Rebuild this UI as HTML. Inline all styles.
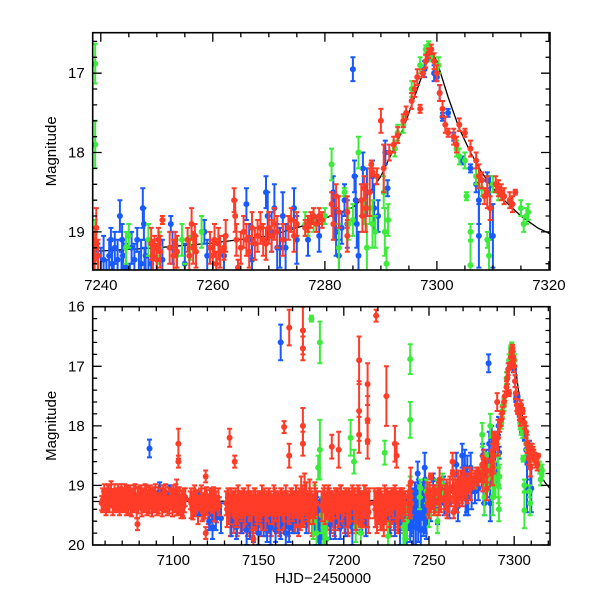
<!DOCTYPE html>
<html><head><meta charset="utf-8"><style>
html,body{margin:0;padding:0;background:#fff;}
svg{display:block;font-family:"Liberation Sans",sans-serif;}
</style></head><body>
<svg id="chart" width="600" height="600" viewBox="0 0 600 600" xmlns="http://www.w3.org/2000/svg">
<defs>
<clipPath id="clipTop"><rect x="92.7" y="32.7" width="457.3" height="237.3"/></clipPath>
<clipPath id="clipBot"><rect x="92.7" y="306.7" width="457.3" height="238.3"/></clipPath>
</defs>
<g id="layer"></g>
</svg>
<script>
// ---- data ----
const modelT=[7053,7200,7240,7250,7260,7270,7275,7280,7285,7288,7290,7292,7294,7296,7298,7299,7300,7302,7304,7306,7308,7310,7312,7315,7318,7321];
const modelM=[19.27,19.26,19.24,19.2,19.14,19.05,18.95,18.83,18.69,18.5,18.3,18.0,17.7,17.3,16.9,16.72,16.85,17.3,17.7,18.0,18.25,18.45,18.6,18.8,18.95,19.05];

// dense baseline observations (red, half-day sampling)
const redBandT=[7058.5,7059.5,7060.5,7061.5,7062.5,7063.5,7064.5,7065.5,7066.5,7067.5,7068.5,7069.5,7070.5,7071.5,7072.5,7073.5,7074.5,7075.5,7076.5,7077.5,7078.5,7079.5,7080.5,7081.5,7082.5,7083.5,7084.5,7085.5,7086.5,7087.5,7088.5,7089.5,7090.5,7091.5,7092.5,7093.5,7094.5,7095.5,7096.5,7097.5,7098.5,7099.5,7100.5,7101.5,7102.5,7103.5,7104.5,7105.5,7106.5,
7110.5,7111.5,7112.5,7113.5,7114.5,7115.5,7116.5,7117.5,7118.5,7119.5,7120.5,7121.5,7122.5,7123.5,7124.5,7125.5,7126.5,
7131.5,7132.5,7133.5,7134.5,7135.5,7136.5,7137.5,7138.5,7139.5,7140.5,7141.5,7142.5,7143.5,7144.5,7145.5,7146.5,7147.5,7148.5,7149.5,7150.5,7151.5,7152.5,7153.5,7154.5,7155.5,7156.5,7157.5,7158.5,7159.5,7160.5,7161.5,7162.5,7163.5,7164.5,7165.5,7166.5,7167.5,7168.5,7169.5,7170.5,7171.5,7172.5,7173.5,7174.5,7175.5,7176.5,7177.5,7178.5,7179.5,7180.5,7181.5,7182.5,7183.5,
7187.5,7188.5,7189.5,7190.5,7191.5,7192.5,7193.5,7194.5,7195.5,7196.5,7197.5,7198.5,7199.5,7200.5,7201.5,7202.5,7203.5,7204.5,7205.5,7206.5,7207.5,7208.5,7209.5,7210.5,7211.5,7212.5,7213.5,7214.5,
7218.5,7219.5,7220.5,7221.5,7222.5,7223.5,7224.5,7225.5,7226.5,7227.5,7228.5,7229.5,7230.5,7231.5,7232.5,7233.5,7234.5,7235.5];
const redBandM=[19.25,19.2,19.3,19.2,19.25,19.15,19.3,19.2,19.25,19.2,19.3,19.2,19.25,19.2,19.3,19.25,19.2,19.3,19.25,19.2,19.35,19.25,19.2,19.3,19.25,19.2,19.3,19.25,19.2,19.3,19.25,19.2,19.3,19.25,19.2,19.3,19.25,19.2,19.3,19.25,19.2,19.3,19.25,19.2,19.3,19.25,19.35,19.3,19.25,
19.3,19.35,19.25,19.3,19.4,19.3,19.25,19.35,19.3,19.25,19.4,19.3,19.35,19.25,19.3,19.4,19.3,
19.4,19.35,19.5,19.4,19.45,19.35,19.5,19.4,19.45,19.5,19.4,19.45,19.5,19.4,19.45,19.55,19.4,19.5,19.45,19.4,19.5,19.45,19.4,19.55,19.45,19.4,19.5,19.45,19.4,19.5,19.45,19.55,19.4,19.5,19.45,19.4,19.5,19.45,19.4,19.5,19.45,19.4,19.5,19.45,19.35,19.4,19.3,19.4,19.45,19.35,19.5,19.45,19.4,
19.4,19.35,19.45,19.4,19.35,19.45,19.4,19.5,19.35,19.4,19.45,19.35,19.4,19.45,19.35,19.5,19.4,19.45,19.35,19.4,19.5,19.35,19.4,19.45,19.4,19.35,19.4,19.45,
19.4,19.45,19.35,19.4,19.45,19.5,19.35,19.4,19.45,19.5,19.35,19.4,19.35,19.45,19.5,19.4,19.35,19.45];
const redBandE=[0.2,0.22,0.2,0.22,0.2,0.22,0.2,0.22,0.2,0.22,0.2,0.22,0.2,0.22,0.2,0.22,0.2,0.22,0.2,0.22,0.2,0.22,0.2,0.22,0.2,0.22,0.2,0.22,0.2,0.22,0.2,0.22,0.2,0.22,0.2,0.22,0.2,0.22,0.2,0.22,0.2,0.22,0.2,0.22,0.2,0.22,0.2,0.22,0.2,
0.25,0.22,0.25,0.22,0.25,0.22,0.25,0.22,0.25,0.22,0.25,0.22,0.25,0.22,0.25,0.22,0.25,
0.3,0.3,0.35,0.3,0.35,0.3,0.35,0.3,0.35,0.3,0.35,0.3,0.35,0.3,0.35,0.3,0.35,0.3,0.35,0.3,0.35,0.3,0.35,0.3,0.35,0.3,0.35,0.3,0.35,0.3,0.35,0.3,0.35,0.3,0.35,0.3,0.35,0.3,0.35,0.3,0.35,0.3,0.35,0.3,0.35,0.3,0.35,0.3,0.35,0.3,0.35,0.3,0.35,
0.3,0.35,0.3,0.35,0.3,0.35,0.3,0.35,0.3,0.35,0.3,0.35,0.3,0.35,0.3,0.35,0.3,0.35,0.3,0.35,0.3,0.35,0.3,0.35,0.3,0.35,0.3,0.35,
0.3,0.35,0.3,0.35,0.3,0.35,0.3,0.35,0.3,0.35,0.3,0.35,0.3,0.35,0.3,0.35,0.3,0.35];

const redT=[7058,7059,7060,7061,7062,7063,7064,7065,7066,7067,7068,7069,7070,7071,7072,7073,7074,7075,7076,7077,7078,7079,7080,7081,7082,7083,7084,7085,7086,7087,7088,7089,7090,7091,7092,7093,7094,7095,7096,7097,7098,7099,7100,7101,7102,7103,7104,7105,7106,7107,
7110,7111,7112,7113,7114,7115,7116,7117,7118,7119,7120,7121,7122,7123,7124,7125,7126,7127,
7131,7132,7133,7134,7135,7136,7137,7138,7139,7140,7141,7142,7143,7144,7145,7146,7147,7148,7149,7150,7151,7152,7153,7154,7155,7156,7157,7158,7159,7160,7161,7162,7163,7164,7165,7166,7167,7168,7169,7170,7171,7172,7173,7174,7175,7176,7177,7178,7179,7180,7181,7182,7183,7184,
7187,7188,7189,7190,7191,7192,7193,7194,7195,7196,7197,7198,7199,7200,7201,7202,7203,7204,7205,7206,7207,7208,7209,7210,7211,7212,7213,7214,7215,
7218,7219,7220,7221,7222,7223,7224,7225,7226,7227,7228,7229,7230,7231,7232,7233,7234,7235,7236,
7133,7103,7103,7119,7136,7165,7168,7168,7176,7176,7176,7176,7209,7209,7209,7214,7214,7214,7219,7225,7230,7231,7193,7197,7147,7079,7119,
7238.0,7238.2,7238.4,7238.6,7238.8,7239.0,7239.2,7239.5,
7249.0,7249.3,7249.6,7250.0,7250.3,7250.6,7251,7252.3,7253.0,7253.3,7253.6,7255.5,7255.8,7256.2,7256.5,7256.8,7257,
7259.5,7260,7260.3,7260.6,7261,7261.3,7262,7262.3,7263.8,7264,7264.2,7264.5,7265,7265.5,7266,7266.5,7267,7267.5,7268,7268.5,7269,7269.5,7270,7270.5,7271,7271.5,7272.5,7273.5,7274,7274.5,7275,
7276.5,7277,7277.5,7278,7278.5,7279,7279.5,7281.2,7281.5,7282,7282.5,7284,7284,7286.5,7286.7,7287,7287.3,7288,7288.3,7288.5,7289.3,7290,7290.5,7291.5,7292.3,7293,7294,7294.5,7295.5,7296,7296.5,7297,7297.5,7298,7298.5,7299,7299.5,7300,7300.5,7301,7301.5,7302,7303,7303.5,7304,7305,7306,7307,7307.5,7308,7308.5,7309,7309.5,7310.5,7311,7311.5,7312,7313,7313.5,7314];
const redM=[19.3,19.25,19.2,19.15,19.1,19.2,19.22,19.18,19.25,19.3,19.2,19.15,19.25,19.3,19.2,19.1,19.25,19.35,19.2,19.15,19.3,19.2,19.25,19.15,19.3,19.2,19.1,19.25,19.3,19.2,19.2,19.15,19.3,19.25,19.2,19.3,19.15,19.2,19.25,19.3,19.2,19.25,19.15,19.3,19.2,19.2,19.3,19.25,19.35,19.2,
19.25,19.3,19.2,19.35,19.25,19.3,19.2,19.4,19.3,19.25,19.35,19.3,19.2,19.3,19.4,19.25,19.3,19.35,
19.3,19.2,19.4,19.25,19.35,19.3,19.45,19.2,19.3,19.35,19.25,19.4,19.3,19.2,19.35,19.45,19.3,19.25,19.4,19.3,19.35,19.2,19.3,19.45,19.35,19.25,19.3,19.4,19.2,19.35,19.3,19.45,19.25,19.3,19.35,19.2,19.3,19.4,19.25,19.35,19.3,19.2,19.4,19.3,19.15,19.3,19.1,19.25,19.35,19.2,19.3,19.4,19.25,19.3,
19.35,19.25,19.4,19.3,19.2,19.35,19.3,19.45,19.25,19.3,19.4,19.2,19.35,19.3,19.25,19.4,19.3,19.35,19.2,19.3,19.45,19.25,19.3,19.4,19.35,19.2,19.3,19.4,19.3,
19.3,19.4,19.25,19.35,19.3,19.45,19.2,19.35,19.3,19.4,19.25,19.3,19.2,19.35,19.4,19.3,19.25,19.35,19.3,
18.2,18.3,18.6,18.85,18.6,18.02,16.35,18.5,16.4,16.7,18.0,18.3,16.9,17.75,18.15,17.3,17.9,18.25,16.15,17.5,18.3,18.5,18.35,18.4,19.9,19.65,19.8,
19.3,19.2,19.4,19.1,19.35,19.2,18.95,19.3,
19.15,19.3,19.2,19.35,19.1,19.25,18.85,19.2,19.3,19.15,19.25,19.1,19.3,18.9,19.2,19.05,19.25,
19.2,19.3,19.1,19.4,19.15,19.25,19.2,19.05,18.6,18.8,19.1,19.45,19.2,19.0,19.1,19.25,18.95,19.15,19.05,18.95,19.1,19.15,18.95,19.05,18.9,19.0,19.1,18.95,18.85,19.05,18.9,
18.95,18.9,18.85,18.8,18.9,18.8,18.85,18.65,18.9,18.55,18.75,18.75,19.05,18.6,18.8,18.45,18.7,18.5,18.15,18.25,18.3,17.6,18.2,18.0,17.9,17.78,17.6,17.5,17.35,17.2,17.05,17.45,17.0,16.85,16.75,16.7,16.85,17.0,17.25,17.45,17.65,17.75,17.8,17.9,17.65,17.75,17.95,18.1,18.3,18.35,18.55,18.5,18.7,18.4,18.45,18.5,18.55,18.6,18.65,18.5];
const redE=[0.12,0.15,0.12,0.1,0.1,0.12,0.15,0.12,0.15,0.12,0.15,0.12,0.15,0.12,0.15,0.1,0.12,0.15,0.12,0.15,0.12,0.15,0.12,0.15,0.12,0.15,0.1,0.12,0.15,0.12,0.15,0.12,0.15,0.12,0.15,0.12,0.15,0.12,0.15,0.12,0.15,0.12,0.15,0.12,0.3,0.15,0.12,0.15,0.2,0.15,
0.15,0.12,0.15,0.12,0.15,0.12,0.15,0.2,0.15,0.12,0.15,0.12,0.15,0.15,0.2,0.15,0.12,0.15,
0.2,0.15,0.25,0.2,0.15,0.2,0.25,0.2,0.2,0.25,0.2,0.25,0.2,0.2,0.25,0.3,0.2,0.2,0.25,0.2,0.25,0.2,0.2,0.3,0.25,0.2,0.2,0.25,0.2,0.25,0.2,0.3,0.2,0.2,0.25,0.2,0.2,0.25,0.2,0.25,0.2,0.2,0.3,0.25,0.3,0.25,0.3,0.3,0.25,0.3,0.2,0.25,0.3,0.2,
0.25,0.2,0.25,0.2,0.2,0.25,0.2,0.3,0.2,0.25,0.3,0.2,0.25,0.2,0.2,0.3,0.25,0.25,0.2,0.2,0.3,0.2,0.25,0.3,0.25,0.2,0.25,0.3,0.25,
0.25,0.3,0.2,0.25,0.2,0.3,0.2,0.25,0.2,0.3,0.2,0.25,0.2,0.25,0.3,0.25,0.2,0.25,0.2,
0.15,0.25,0.1,0.1,0.1,0.1,0.3,0.2,0.4,0.2,0.3,0.2,0.4,0.5,0.3,0.35,0.4,0.3,0.1,0.5,0.3,0.2,0.2,0.3,0.2,0.1,0.1,
0.15,0.2,0.15,0.1,0.2,0.2,0.25,0.2,
0.2,0.2,0.15,0.2,0.15,0.2,0.05,0.2,0.2,0.15,0.2,0.15,0.2,0.2,0.2,0.15,0.2,
0.2,0.2,0.2,0.15,0.2,0.2,0.15,0.2,0.15,0.2,0.2,0.1,0.2,0.2,0.2,0.2,0.2,0.2,0.2,0.2,0.2,0.2,0.2,0.2,0.2,0.2,0.2,0.15,0.15,0.2,0.15,
0.1,0.1,0.1,0.1,0.1,0.1,0.1,0.15,0.2,0.15,0.2,0.2,0.2,0.2,0.2,0.15,0.3,0.3,0.05,0.05,0.1,0.15,0.3,0.1,0.1,0.1,0.08,0.08,0.1,0.1,0.1,0.05,0.05,0.08,0.06,0.06,0.1,0.1,0.1,0.1,0.1,0.05,0.1,0.1,0.08,0.05,0.1,0.1,0.15,0.1,0.1,0.2,0.15,0.1,0.1,0.1,0.1,0.1,0.1,0.03];

const blueT=[7086,7163,7285,7121,7123,7125,7140,7143,7147,7150,7153,7157,7160,7163,7166,7170,7183,7184,7184.5,7185,7185.5,7186,7186.5,7187,7188,7195,7205,7230,7233,7236,7237,7238,7239,7240,7240.5,7241,7246.8,7247.2,7248.5,
7092,7098,7115,7128,7134,7137,7145,7155,7168,7173,7178,7192,7198,7201,7210,7213,7227,7239.5,7242.3,7243.7,7244.5,7245.2,7247.8,7249,7251,7255,7262,7267,7272,7277,7279,7283,
7241.5,7241.8,7242,7242.5,7243,7243.4,7243.8,7244,7245.5,7246,7246.5,7247.5,7247.7,7248,7252.5,7252.8,7258.5,7259,7266,7266.5,7269.5,7269.8,7270.5,7271,7271.5,7272.5,7273,7274.5,7275,7281.5,7281.7,7282,7282.5,7283.5,7284,7285.3,7285.5,7285.7,7286,7286.8,7287.5,7288.5,7288.8,7289.5,7290.8,7291.2,7297.8,7298.5,7299.5,7300,7300.5,7301,7302,7303,7304.5,7306,7307,7307.5,7309,7309.5,7310,7307.5];
const blueM=[18.38,16.6,16.95,19.6,19.7,19.55,19.6,19.75,19.65,19.8,19.6,19.7,19.75,19.65,19.8,19.6,19.5,19.7,19.4,19.6,19.8,19.5,19.7,19.6,19.45,19.6,19.7,19.55,19.65,19.5,19.7,19.45,19.6,19.5,19.35,19.7,19.55,19.4,19.6,
19.1,19.15,19.3,19.55,19.6,19.7,19.65,19.75,19.7,19.6,19.55,19.65,19.7,19.6,19.55,19.6,19.55,19.5,19.7,19.6,19.45,19.75,19.5,19.4,19.35,19.4,19.3,19.35,19.2,19.1,19.05,18.95,
19.3,19.1,19.4,19.2,19.35,18.8,19.1,19.3,19.2,19.35,19.1,18.7,18.9,19.3,18.9,19.2,19.0,19.3,18.65,19.1,18.5,18.8,19.0,18.7,19.2,18.8,19.2,18.7,19.1,18.5,18.8,19.0,19.3,18.6,18.9,18.3,18.6,18.9,19.3,18.2,18.5,18.3,18.7,18.8,18.0,18.45,16.95,16.8,17.0,17.05,17.25,17.55,17.5,17.8,18.1,18.2,18.4,18.6,18.35,18.7,19.05,19.05];
const blueE=[0.15,0.3,0.15,0.15,0.2,0.2,0.2,0.25,0.3,0.2,0.25,0.3,0.2,0.25,0.3,0.2,0.3,0.3,0.3,0.35,0.3,0.3,0.35,0.3,0.3,0.3,0.3,0.3,0.35,0.3,0.35,0.3,0.35,0.3,0.3,0.35,0.3,0.3,0.3,
0.15,0.15,0.2,0.25,0.25,0.2,0.25,0.2,0.25,0.2,0.25,0.25,0.2,0.25,0.2,0.25,0.25,0.35,0.3,0.35,0.3,0.35,0.3,0.25,0.25,0.25,0.25,0.25,0.25,0.2,0.2,0.2,
0.2,0.15,0.2,0.2,0.25,0.2,0.2,0.2,0.2,0.2,0.15,0.25,0.2,0.2,0.1,0.2,0.15,0.2,0.2,0.2,0.2,0.3,0.25,0.3,0.3,0.3,0.3,0.25,0.3,0.2,0.3,0.3,0.2,0.2,0.3,0.2,0.3,0.3,0.3,0.2,0.3,0.2,0.3,0.2,0.15,0.1,0.1,0.05,0.1,0.05,0.1,0.05,0.05,0.05,0.05,0.05,0.1,0.3,0.1,0.4,0.4,0.4];

const greenT=[7181,7186,7186,7204,7185,7182,7184,7188,7190,7224,7206,7235,7236,7250,7255,7183,7187,7189,7207,7210,7226,7237,
7239,7239,7239,7244.5,7245,7248.5,7250.5,7253.5,7254.5,7256,7258,7276.5,7277,7278,7280,7281.2,7282.5,7283.5,7284.2,7285,7286,7287,7287.5,7288,7288.5,7289,7290.5,7290.7,7291,7291.3,7292.5,7293,7294,7295.5,7297,7298,7298.5,7299,7300.3,7303.5,7304,7305,7305.3,7306,7306,7307,7308,7309,7309.3,7310,7311,7312,7315,7315.5,7316,7316.3];
const greenM=[16.2,16.6,18.4,18.2,18.7,19.6,19.8,19.7,19.9,18.45,18.6,19.7,19.9,19.5,19.6,19.3,19.5,19.75,19.7,19.8,19.85,19.6,
16.88,17.9,19.2,19.2,19.05,19.1,19.2,19.3,19.1,19.2,19.0,18.9,18.95,18.85,18.8,18.15,19.2,18.5,18.9,18.85,18.0,18.6,19.2,18.7,18.9,19.0,18.5,19.0,19.4,18.85,17.95,17.75,17.65,17.2,16.9,16.7,16.65,16.8,16.9,17.95,18.05,18.1,18.55,19.0,19.42,18.3,18.45,19.1,19.3,18.4,18.5,18.55,18.7,18.9,18.8,18.75];
const greenE=[0.05,0.35,0.5,0.3,0.2,0.3,0.3,0.3,0.3,0.2,0.2,0.3,0.3,0.2,0.2,0.3,0.3,0.3,0.25,0.25,0.25,0.3,
0.25,0.3,0.35,0.2,0.15,0.2,0.2,0.2,0.2,0.15,0.2,0.15,0.1,0.15,0.1,0.2,0.3,0.05,0.2,0.2,0.2,0.3,0.3,0.2,0.3,0.2,0.2,0.3,0.2,0.2,0.1,0.1,0.1,0.1,0.1,0.05,0.05,0.05,0.1,0.1,0.1,0.1,0.05,0.1,0.3,0.1,0.1,0.1,0.2,0.1,0.1,0.1,0.1,0.1,0.1,0.1];

const topXTicks=[7240,7260,7280,7300,7320];
const topYTicks=[17,18,19];
const botXTicks=[7100,7150,7200,7250,7300];
const botYTicks=[16,17,18,19,20];

// ---- drawing ----
const NS='http://www.w3.org/2000/svg';
const layer=document.getElementById('layer');
function mk(tag,attrs,parent){const e=document.createElementNS(NS,tag);for(const k in attrs)e.setAttribute(k,attrs[k]);(parent||layer).appendChild(e);return e;}
const colors={blue:'rgb(25,90,255)',green:'rgb(60,235,60)',red:'rgb(255,60,40)'};

function panel(cfg){
  const {x0,x1,y0,y1,tMin,tMax,mMin,mMax,name}=cfg;
  const sx=t=>x0+(t-tMin)/(tMax-tMin)*(x1-x0);
  const sy=m=>y0+(m-mMin)/(mMax-mMin)*(y1-y0);
  const g=mk('g',{});
  
  
  const plot=mk('g',{'clip-path':'url(#'+cfg.clip+')'},g);
  
  
  let d='';
  modelT.forEach((t,i)=>{d+=(i?'L':'M')+sx(t).toFixed(1)+','+sy(modelM[i]).toFixed(1);});
  const ml=mk('path',{d:d,fill:'none',stroke:'#000','stroke-width':1.3},plot);
  
  
  const series=[['red',redBandT,redBandM,redBandE],['blue',blueT,blueM,blueE],['green',greenT,greenM,greenE],['red',redT,redM,redE]];
  series.forEach(([c,T,M,E])=>{
    const sg=mk('g',{stroke:colors[c],fill:colors[c],'stroke-width':2},plot);
    
    
    T.forEach((t,i)=>{
      if(t<tMin-2||t>tMax+2)return;
      const x=sx(t),ya=sy(M[i]-E[i]),yb=sy(M[i]+E[i]),y=sy(M[i]);
      const pt=mk('path',{d:`M${x.toFixed(1)},${ya.toFixed(1)}V${yb.toFixed(1)}M${(x-2.5).toFixed(1)},${ya.toFixed(1)}h5M${(x-2.5).toFixed(1)},${yb.toFixed(1)}h5`,fill:'none'},sg);
      
      
      const dot=mk('circle',{cx:x.toFixed(1),cy:y.toFixed(1),r:3,stroke:'none'},sg);
      
      
    });
  });
  const fr=mk('rect',{x:x0,y:y0,width:x1-x0,height:y1-y0,fill:'none',stroke:'#000','stroke-width':1.6},g);
  
  
  let td='';
  for(let t=Math.ceil(tMin/cfg.xMinor)*cfg.xMinor;t<=tMax;t+=cfg.xMinor){
    const x=sx(t).toFixed(1);const major=Math.abs(t/cfg.xMajor-Math.round(t/cfg.xMajor))<1e-6;const L=major?9:4.5;
    td+=`M${x},${y0}v${L}M${x},${y1}v${-L}`;
  }
  for(let k=Math.ceil(mMin/0.2-1e-6);k*0.2<=mMax+1e-6;k++){
    const m=k*0.2;const y=sy(m).toFixed(1);const major=Math.abs(m-Math.round(m))<1e-6;const L=major?9:4.5;
    td+=`M${x0},${y}h${L}M${x1},${y}h${-L}`;
  }
  const tk=mk('path',{d:td,stroke:'#000','stroke-width':1.3,fill:'none'},g);
  
  
  cfg.xTicks.forEach(t=>{
    const tx=mk('text',{x:sx(t),y:y1+20,'text-anchor':'middle','font-size':15},g);
    tx.textContent=t;
    
    
  });
  cfg.yTicks.forEach(m=>{
    const tx=mk('text',{x:x0-8,y:sy(m)+5,'text-anchor':'end','font-size':15},g);
    tx.textContent=m;
    
    
  });
  const yl=mk('text',{x:0,y:0,'text-anchor':'middle','font-size':15,transform:`translate(56,${(y0+y1)/2}) rotate(-90)`},g);
  yl.textContent='Magnitude';
  
  
}

panel({name:'top-panel',clip:'clipTop',x0:92.7,x1:550,y0:32.7,y1:270,tMin:7238.55,tMax:7320.2,mMin:16.49,mMax:19.48,xMinor:5,xMajor:20,xTicks:topXTicks,yTicks:topYTicks});
panel({name:'bottom-panel',clip:'clipBot',x0:92.7,x1:550,y0:306.7,y1:545,tMin:7052.7,tMax:7321,mMin:16,mMax:20,xMinor:10,xMajor:50,xTicks:botXTicks,yTicks:botYTicks});

const xl=mk('text',{x:323,y:583,'text-anchor':'middle','font-size':15});
xl.textContent='HJD\u22122450000';


</script>
</body></html>
